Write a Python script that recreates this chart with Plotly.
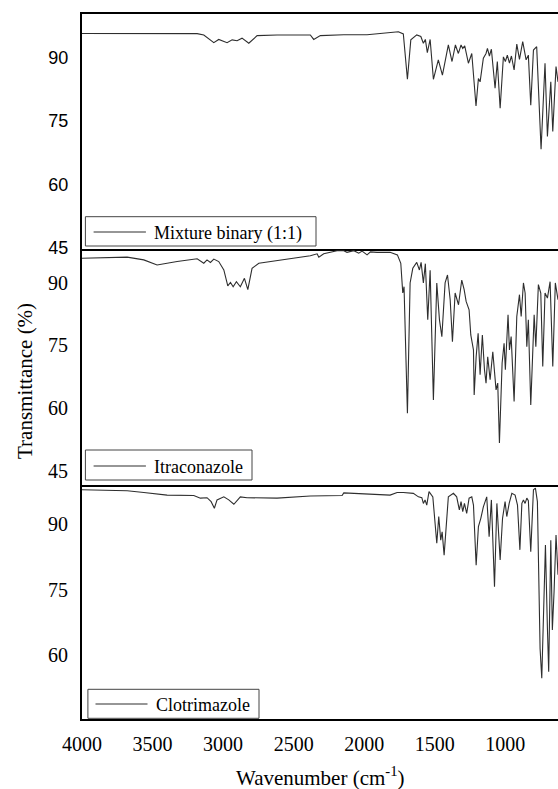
import plotly.graph_objects as go

# ---------------- data ----------------
mixture_wn = [4000, 3562, 3184, 3137, 3066, 3031, 2972, 2936, 2901, 2866, 2818, 2759, 2618, 2382, 2358, 2311,
              2145, 1980, 1909, 1817, 1758, 1723, 1694, 1670, 1628, 1599, 1581, 1567, 1553, 1533, 1510, 1475,
              1446, 1404, 1378, 1354, 1333, 1314, 1302, 1288, 1262, 1238, 1208, 1191, 1179, 1156, 1137, 1127,
              1113, 1099, 1073, 1057, 1037, 1014, 1000, 986, 971, 957, 938, 919, 900, 877, 853, 837, 820, 801,
              778, 747, 719, 702, 678, 664, 641, 627]
mixture_T = [95.6, 95.6, 95.57, 95.26, 93.44, 94.2, 93.44, 94.1, 93.9, 94.5, 93.3, 95.1, 95.26, 95.26, 94.2, 95.1,
             95.3, 95.3, 95.5, 95.66, 96.0, 95.5, 84.8, 94.1, 95.26, 94.9, 93.3, 94.2, 91.1, 94.2, 84.8, 89.4,
             85.8, 92.9, 89.0, 92.9, 90.9, 92.9, 92.1, 92.7, 88.6, 90.9, 78.5, 85.0, 84.2, 89.8, 90.9, 92.1,
             90.3, 91.9, 82.7, 89.0, 78.0, 90.1, 89.0, 90.5, 88.6, 90.3, 87.0, 93.1, 89.5, 93.7, 89.4, 90.5, 78.7, 91.7,
             92.5, 68.3, 88.6, 71.3, 84.2, 72.5, 87.8, 84.2]

itra_wn = [4000, 3680, 3562, 3468, 3326, 3184, 3137, 3114, 3090, 3066, 3031, 2995, 2967, 2948, 2929, 2906,
           2878, 2849, 2825, 2795, 2747, 2618, 2382, 2334, 2322, 2287, 2240, 2193, 2145, 2122, 2074, 2039,
           2015, 1980, 1956, 1909, 1817, 1765, 1741, 1727, 1718, 1694, 1675, 1656, 1628, 1609, 1597, 1581,
           1567, 1550, 1533, 1510, 1486, 1467, 1450, 1427, 1410, 1391, 1375, 1356, 1332, 1309, 1292, 1278,
           1257, 1245, 1226, 1221, 1207, 1193, 1179, 1163, 1148, 1137, 1125, 1108, 1089, 1066, 1054, 1042,
           1023, 1009, 1000, 990, 981, 971, 959, 938, 919, 900, 888, 872, 860, 848, 837, 820, 796, 784,
           766, 749, 735, 719, 702, 683, 664, 646, 627]
itra_T = [95.8, 96.06, 95.4, 94.2, 95.0, 95.66, 94.6, 95.4, 94.8, 95.6, 95.0, 93.0, 89.2, 90.0, 89.0, 90.2,
          89.0, 91.0, 88.3, 93.4, 94.6, 95.25, 96.4, 96.85, 96.06, 96.85, 97.2, 97.6, 97.6, 97.2, 97.6, 97.0,
          97.5, 96.6, 97.3, 97.2, 97.2, 96.6, 94.6, 87.5, 89.0, 58.8, 89.9, 93.4, 94.8, 93.0, 94.8, 89.9,
          94.5, 81.1, 92.9, 62.0, 89.9, 81.1, 77.1, 89.9, 91.8, 85.9, 75.9, 87.5, 84.7, 90.6, 88.3, 85.5,
          83.5, 77.5, 73.9, 63.2, 72.3, 77.9, 68.0, 77.5, 69.2, 66.0, 72.3, 66.8, 73.5, 64.4, 66.0, 51.7,
          70.8, 75.5, 69.2, 76.3, 82.3, 73.9, 77.1, 61.6, 81.9, 87.1, 81.9, 89.9, 87.5, 74.7, 81.1, 60.8, 82.3, 74.7,
          89.5, 87.5, 70.0, 87.5, 86.3, 90.2, 70.0, 89.9, 85.9]

clot_wn = [4000, 3680, 3562, 3397, 3208, 3161, 3114, 3085, 3062, 3043, 2995, 2960, 2924, 2878, 2830, 2618,
           2382, 2157, 2145, 1980, 1909, 1817, 1767, 1723, 1652, 1616, 1592, 1581, 1569, 1557, 1541, 1514,
           1486, 1472, 1458, 1448, 1434, 1420, 1404, 1368, 1345, 1326, 1314, 1302, 1290, 1274, 1257, 1238,
           1226, 1207, 1191, 1174, 1156, 1132, 1115, 1099, 1077, 1060, 1037, 1020, 1002, 990, 973, 954,
           931, 914, 897, 883, 872, 860, 848, 837, 820, 801, 787, 773, 754, 742, 716, 702, 693, 678,
           667, 655, 641, 627]
clot_T = [97.83, 97.6, 97.2, 96.6, 96.5, 95.9, 96.0, 95.1, 93.6, 95.5, 96.2, 95.5, 94.5, 96.2, 96.0, 95.9,
          96.4, 96.5, 97.1, 96.8, 96.8, 96.6, 97.2, 97.2, 97.0, 96.2, 96.0, 94.7, 95.5, 94.3, 97.4, 96.2,
          85.6, 91.7, 86.3, 88.2, 82.9, 89.0, 96.2, 97.0, 96.2, 93.2, 95.1, 92.8, 94.7, 92.4, 95.9, 96.2,
          94.3, 80.6, 89.4, 91.3, 93.9, 96.2, 87.1, 95.5, 75.7, 94.7, 81.8, 91.3, 95.1, 91.7, 94.7, 97.0,
          96.6, 94.3, 84.1, 94.7, 95.5, 94.7, 95.9, 95.3, 83.7, 97.8, 98.2, 95.1, 61.6, 54.8, 85.2, 66.2, 56.3, 86.3,
          65.8, 74.5, 87.5, 78.4]

names = ["Mixture binary (1:1)", "Itraconazole", "Clotrimazole"]
y_ticks = [[45, 60, 75, 90], [45, 60, 75, 90], [60, 75, 90]]
x_ticks = [4000, 3500, 3000, 2500, 2000, 1500, 1000]

# ---------------- layout geometry ----------------
W, H = 558, 789
L = 82
def px(x):
    return (x - L) / (W - L)
def py(y):
    return 1 - y / H

dom = [[py(249), py(14)], [py(485), py(249)], [py(719), py(485)]]
yr = [[44.8, 100.2], [41.7, 98.0], [45.5, 98.9]]
xr = [4000, 627]

serif = "Liberation Serif"
sans = "Liberation Sans"
line_col = "#2e2e2e"

fig = go.Figure()
series = [(mixture_wn, mixture_T), (itra_wn, itra_T), (clot_wn, clot_T)]
for i, (wn, t) in enumerate(series):
    sfx = "" if i == 0 else str(i + 1)
    fig.add_trace(go.Scatter(x=wn, y=t, mode="lines", name=names[i],
                             line=dict(color=line_col, width=1.1),
                             xaxis="x" + sfx, yaxis="y" + sfx, showlegend=False))

layout = dict(width=W, height=H, margin=dict(l=L, r=0, t=0, b=0),
              paper_bgcolor="white", plot_bgcolor="white", showlegend=False)
for i in range(3):
    sfx = "" if i == 0 else str(i + 1)
    layout["xaxis" + sfx] = dict(domain=[0, 1], range=xr, anchor="y" + sfx,
                                 showline=True, mirror=(i == 0), linecolor="black", linewidth=2,
                                 showgrid=False, zeroline=False, ticks="",
                                 tickvals=x_ticks, showticklabels=(i == 2),
                                 tickfont=dict(family=serif, size=20, color="black"),
                                 ticklabelstandoff=6, automargin=False,
                                 **({} if i == 0 else {"matches": "x"}))
    layout["yaxis" + sfx] = dict(domain=dom[i], range=yr[i], anchor="x" + sfx,
                                 showline=True, mirror=False, linecolor="black", linewidth=2,
                                 showgrid=False, zeroline=False, ticks="",
                                 tickvals=y_ticks[i],
                                 tickfont=dict(family=(sans if i == 0 else serif), size=(18 if i == 0 else 20), color="black"),
                                 ticklabelstandoff=8, automargin=False)
fig.update_layout(**layout)

# ---------------- legend boxes (drawn as decorations) ----------------
boxes = [
    dict(x0=85.4, x1=316, y0=216.7, y1=246, lx0=93.6, lx1=145.9, ly=232, tx=152.3),
    dict(x0=85.4, x1=252, y0=450, y1=480, lx0=93.6, lx1=145.9, ly=466, tx=152.0),
    dict(x0=87.9, x1=259, y0=689.3, y1=718.3, lx0=95.5, lx1=147.5, ly=704, tx=153.7),
]
shapes = []
annotations = []
for i, b in enumerate(boxes):
    shapes.append(dict(type="rect", xref="paper", yref="paper",
                       x0=px(b["x0"]), x1=px(b["x1"]), y0=py(b["y1"]), y1=py(b["y0"]),
                       line=dict(color="#444", width=1), fillcolor="white", layer="above"))
    shapes.append(dict(type="line", xref="paper", yref="paper",
                       x0=px(b["lx0"]), x1=px(b["lx1"]), y0=py(b["ly"]), y1=py(b["ly"]),
                       line=dict(color=line_col, width=1.1), layer="above"))
    annotations.append(dict(text=names[i], xref="paper", yref="paper",
                            x=px(b["tx"]), y=py(b["ly"] + 1), xanchor="left", yanchor="middle",
                            showarrow=False, font=dict(family=serif, size=18, color="black")))

annotations.append(dict(text="Wavenumber (cm<sup>-1</sup>)", xref="paper", yref="paper",
                        x=px(320), y=py(776), xanchor="center", yanchor="middle", showarrow=False,
                        font=dict(family=serif, size=21, color="black")))
annotations.append(dict(text="Transmittance (%)", xref="paper", yref="paper",
                        x=px(25), y=py(381), xanchor="center", yanchor="middle", showarrow=False,
                        textangle=-90, font=dict(family=serif, size=21, color="black")))
fig.update_layout(shapes=shapes, annotations=annotations)

fig.write_html("out.html")
